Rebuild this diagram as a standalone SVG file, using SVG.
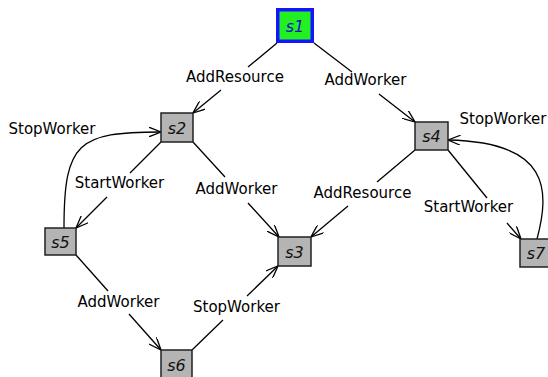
<svg xmlns="http://www.w3.org/2000/svg" width="548" height="377" viewBox="0 0 548 377">
<style>
.node rect{fill:#b4b4b4;stroke:#222;stroke-width:1.5}
.node text{font-family:"DejaVu Sans",sans-serif;font-style:italic;font-size:16px;fill:#111;text-anchor:middle}
.edge{fill:none;stroke:#000;stroke-width:1.3}
.lbl{font-family:"DejaVu Sans",sans-serif;font-size:15px;fill:#000;text-anchor:middle}
</style>
<defs>
<marker id="arr" viewBox="0 0 13 10" refX="12.5" refY="5" markerWidth="13" markerHeight="10" markerUnits="userSpaceOnUse" orient="auto">
<path d="M0,0 L12.5,5 L0,10" fill="none" stroke="#000" stroke-width="1.3"/>
</marker>
</defs>
<rect width="548" height="377" fill="#fff"/>
<g id="connectors">
<path class="edge" d="M277,43 L248,67 M221,90 L193,113" marker-end="url(#arr)"/>
<path class="edge" d="M314,43 L352,72 M379,94 L415,122" marker-end="url(#arr)"/>
<path class="edge" d="M193,142 L225,177 M248,203 L279,237" marker-end="url(#arr)"/>
<path class="edge" d="M415,150 L377,182 M348,206 L311,237" marker-end="url(#arr)"/>
<path class="edge" d="M161,142 L130,173 M107,197 L76,228" marker-end="url(#arr)"/>
<path class="edge" d="M64,228 C64,142 78,132 161,132" marker-end="url(#arr)"/>
<path class="edge" d="M448,150 L487,198 M507,223 L521,239" marker-end="url(#arr)"/>
<path class="edge" d="M537,239 C550,190 550,142 448,140" marker-end="url(#arr)"/>
<path class="edge" d="M76,255 L108,291 M129,314 L161,350" marker-end="url(#arr)"/>
<path class="edge" d="M192,350 L223,320 M247,296 L278,266" marker-end="url(#arr)"/>
<text class="lbl" x="235" y="82">AddResource</text>
<text class="lbl" x="365.5" y="85">AddWorker</text>
<text class="lbl" x="236.5" y="194">AddWorker</text>
<text class="lbl" x="362.5" y="198">AddResource</text>
<text class="lbl" x="118.5" y="307">AddWorker</text>
<text class="lbl" x="236.5" y="312">StopWorker</text>
<text class="lbl" x="52" y="134">StopWorker</text>
<text class="lbl" x="503" y="124">StopWorker</text>
<text class="lbl" x="468.5" y="212">StartWorker</text>
<text class="lbl" x="119.5" y="188">StartWorker</text>
</g>
<g id="s1">
<rect x="277.75" y="9.75" width="34.5" height="31.5" fill="#22f022" stroke="#1414ff" stroke-width="3.5"/>
<text x="295" y="32" font-family="DejaVu Sans,sans-serif" font-style="italic" font-size="16" fill="#1010c0" text-anchor="middle">s1</text>
</g>
<g id="s2" class="node"><rect x="161" y="113" width="32" height="29"/><text x="177" y="134">s2</text></g>
<g id="s3" class="node"><rect x="278" y="237" width="33" height="29"/><text x="294.5" y="258">s3</text></g>
<g id="s4" class="node"><rect x="415" y="122" width="33" height="28"/><text x="431.5" y="142">s4</text></g>
<g id="s5" class="node"><rect x="45" y="228" width="31" height="27"/><text x="60.5" y="248">s5</text></g>
<g id="s6" class="node"><rect x="161" y="350" width="31" height="29"/><text x="176.5" y="371">s6</text></g>
<g id="s7" class="node"><rect x="520" y="239" width="32" height="28"/><text x="536" y="259">s7</text></g>
</svg>
